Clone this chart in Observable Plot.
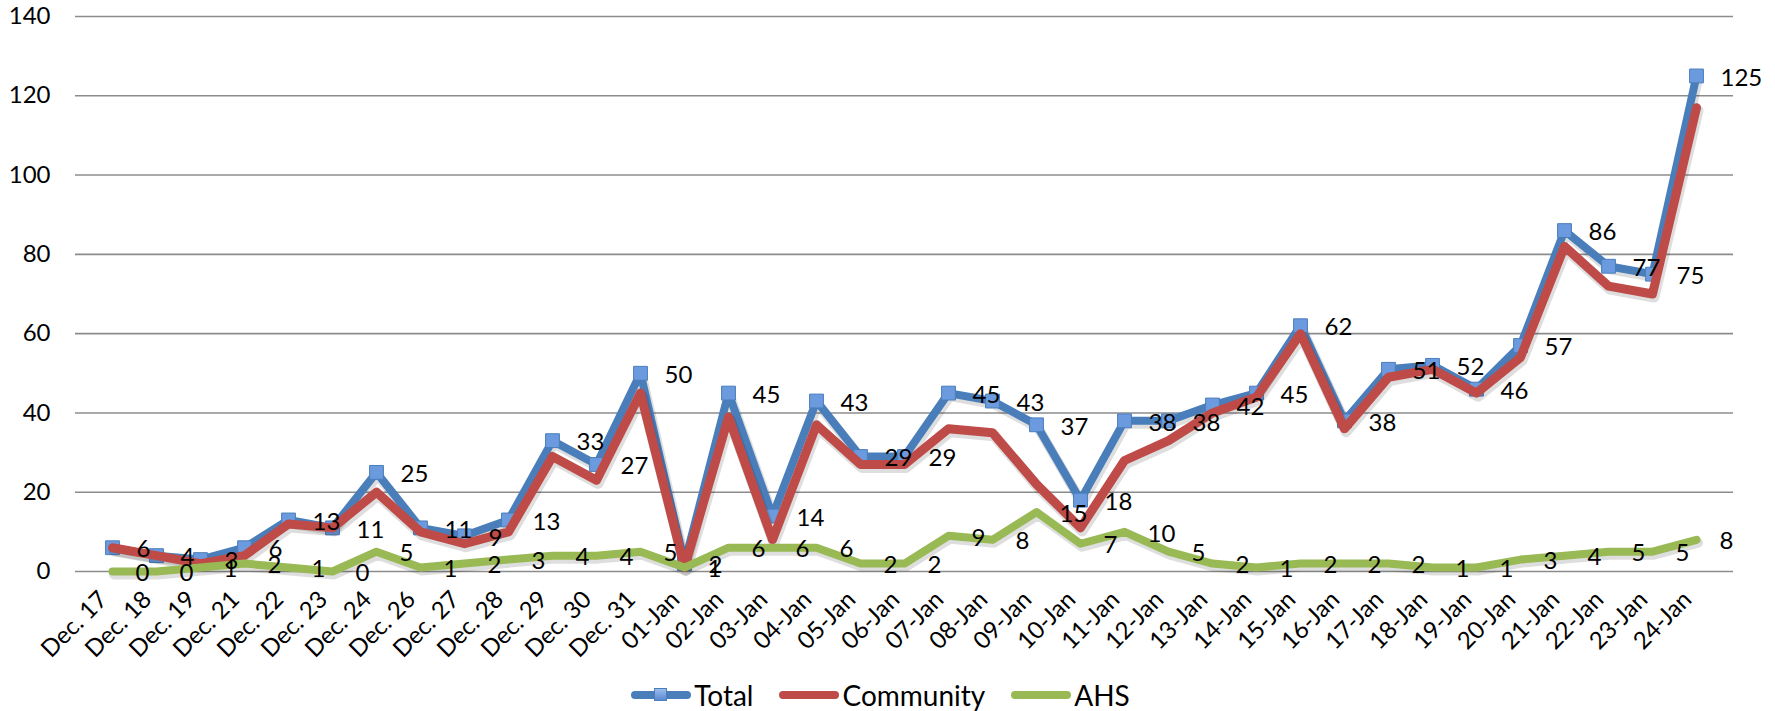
<!DOCTYPE html>
<html>
<head>
<meta charset="utf-8">
<script src="https://cdn.jsdelivr.net/npm/d3@7"></script>
<script src="https://cdn.jsdelivr.net/npm/@observablehq/plot@0.6"></script>
<style>
  html, body { margin: 0; padding: 0; background: #fff; }
  body { width: 1775px; height: 711px; overflow: hidden; font-family: Lato, "Open Sans", sans-serif; }
  #chart svg { display: block; }
  #legend { display: flex; justify-content: center; align-items: center; height: 46px; padding-right: 14px; font-size: 28px; color: #000; }
  .item { display: flex; align-items: center; margin: 0 13px; }
  .sw { position: relative; width: 60px; height: 8px; border-radius: 4px; margin-right: 3px; }
  .mk { position: absolute; left: 23px; top: -3px; width: 13px; height: 13px; box-sizing: border-box; border: 1px solid #4a7ebb; background: linear-gradient(#9bbcec, #5a8bd2); }
</style>
</head>
<body>
<div id="chart"></div>
<div id="legend"></div>
<script>
const dates = ["Dec. 17","Dec. 18","Dec. 19","Dec. 21","Dec. 22","Dec. 23","Dec. 24","Dec. 26","Dec. 27","Dec. 28","Dec. 29","Dec. 30","Dec. 31",
  "01-Jan","02-Jan","03-Jan","04-Jan","05-Jan","06-Jan","07-Jan","08-Jan","09-Jan","10-Jan","11-Jan","12-Jan",
  "13-Jan","14-Jan","15-Jan","16-Jan","17-Jan","18-Jan","19-Jan","20-Jan","21-Jan","22-Jan","23-Jan","24-Jan"];
const total     = [6,4,3,6,13,11,25,11,9,13,33,27,50,2,45,14,43,29,29,45,43,37,18,38,38,42,45,62,38,51,52,46,57,86,77,75,125];
const community = [6,4,2,4,12,11,20,10,7,10,29,23,45,1,39,8,37,27,27,36,35,22,11,28,33,40,44,60,36,49,51,45,54,82,72,70,117];
const ahs       = [0,0,1,2,1,0,5,1,2,3,4,4,5,1,6,6,6,2,2,9,8,15,7,10,5,2,1,2,2,2,1,1,3,4,5,5,8];
const yTicks = [0,20,40,60,80,100,120,140];
const seriesNames = ["Total","Community","AHS"];
const seriesColors = ["#4a7ebb","#be4b48","#98b954"];

const rows = (vals) => dates.map((d, i) => ({date: d, value: vals[i]}));
const tRows = rows(total), cRows = rows(community), aRows = rows(ahs);

const shadow = (data, w) => Plot.line(data, {x: "date", y: "value", stroke: "#000", strokeOpacity: 0.13, strokeWidth: w + 2, dx: 1.5, dy: 3, strokeLinecap: "round", strokeLinejoin: "round"});
const line = (data, color, w) => Plot.line(data, {x: "date", y: "value", stroke: color, strokeWidth: w, strokeLinecap: "round", strokeLinejoin: "round"});

const chart = Plot.plot({
  width: 1775,
  height: 672,
  marginLeft: 75,
  marginRight: 42,
  marginTop: 16,
  marginBottom: 101,
  style: {fontFamily: "Lato, 'Open Sans', sans-serif", color: "#000", background: "#fff"},
  x: {type: "point", domain: dates, padding: 0.5},
  y: {domain: [0, 140]},
  marks: [
    Plot.gridY(yTicks, {stroke: "#8c8c8c", strokeOpacity: 1, strokeWidth: 1.6}),
    Plot.axisY(yTicks, {tickSize: 0, tickPadding: 25, fontSize: 24, label: null}),
    Plot.axisX({tickRotate: -45, tickSize: 0, tickPadding: 24, fontSize: 24, label: null, dx: -9}),
    shadow(tRows, 8),
    line(tRows, seriesColors[0], 8),
    Plot.dot(tRows, {x: "date", y: "value", symbol: "square", r: 7.8, fill: "#6b9ade", stroke: "#4a7ebb", strokeWidth: 1, ariaLabel: "total-dot"}),
    shadow(cRows, 9),
    line(cRows, seriesColors[1], 9),
    shadow(aRows, 8),
    line(aRows, seriesColors[2], 8),
    Plot.text(tRows, {x: "date", y: "value", text: "value", dx: 24, dy: 2, textAnchor: "start", lineAnchor: "middle", fontSize: 24, fill: "#000"}),
    Plot.text(aRows, {x: "date", y: "value", text: "value", dx: 23, dy: 2, textAnchor: "start", lineAnchor: "middle", fontSize: 24, fill: "#000"})
  ]
});

// gradient for the square markers
const ns = "http://www.w3.org/2000/svg";
const defs = document.createElementNS(ns, "defs");
defs.innerHTML = `
  <linearGradient id="mkgrad" x1="0" y1="0" x2="0" y2="1">
    <stop offset="0" stop-color="#a2c2f0"/>
    <stop offset="1" stop-color="#5a8bd2"/>
  </linearGradient>`;
chart.insertBefore(defs, chart.firstChild);
chart.querySelectorAll('g[aria-label="total-dot"] path').forEach(p => p.setAttribute("fill", "url(#mkgrad)"));
document.getElementById("chart").appendChild(chart);

// legend
const legend = document.getElementById("legend");
seriesNames.forEach((name, i) => {
  const item = document.createElement("div");
  item.className = "item";
  const sw = document.createElement("div");
  sw.className = "sw";
  sw.style.background = seriesColors[i];
  if (i === 0) { const mk = document.createElement("div"); mk.className = "mk"; sw.appendChild(mk); }
  const label = document.createElement("span");
  label.textContent = name;
  item.appendChild(sw);
  item.appendChild(label);
  legend.appendChild(item);
});
</script>
</body>
</html>
